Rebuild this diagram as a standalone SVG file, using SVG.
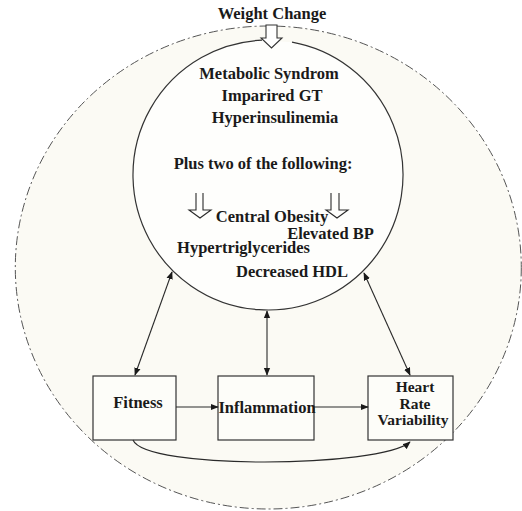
<svg xmlns="http://www.w3.org/2000/svg" width="522" height="511" viewBox="0 0 522 511">
<defs>
<style>
.t{font-family:"Liberation Serif","Times New Roman",serif;font-weight:bold;font-size:16.5px;fill:#1a1a1a;text-anchor:middle}
.s{font-size:15.5px}
.box{fill:#fdfdf9;stroke:#333;stroke-width:1.2}
.ln{fill:none;stroke:#2a2a2a;stroke-width:1.1}
.ha{fill:#fff;stroke:#333;stroke-width:1.1}
</style>
<marker id="ah" viewBox="0 0 10 10" refX="9" refY="5" markerWidth="8" markerHeight="8" markerUnits="userSpaceOnUse" orient="auto-start-reverse">
<path d="M0,1 L10,5 L0,9 Z" fill="#1a1a1a"/>
</marker>
</defs>
<rect width="522" height="511" fill="#ffffff"/>
<g id="outer">
<ellipse cx="268.3" cy="267.5" rx="253" ry="241.5" fill="#fbfaf4" stroke="#555" stroke-width="1" stroke-dasharray="9 3 2 3"/>
</g>
<g id="weight-change">
<text class="t" x="272" y="19">Weight Change</text>
</g>
<g id="metabolic">
<path d="M 292 42.15 A 135 135 0 1 1 262 40.13" fill="#fefefc" stroke="#333" stroke-width="1.2"/>
<polygon class="ha" points="266,25 277,25 277,38 282,38 271.5,48 261,38 266,38"/>
<text class="t" x="269" y="79">Metabolic Syndrom</text>
<text class="t" x="272" y="101">Imparired GT</text>
<text class="t" x="275" y="123">Hyperinsulinemia</text>
<text class="t" x="263" y="169">Plus two of the following:</text>
<polyline class="ln" points="196,193 196,210 189,210 200,218 211,210 203,210 203,193"/>
<polyline class="ln" points="331,193 331,210 326,210 337,218 348,210 339,210 339,193"/>
<text class="t" x="272" y="222">Central Obesity</text>
<text class="t" x="330.5" y="239">Elevated BP</text>
<text class="t" x="243.5" y="253">Hypertriglycerides</text>
<text class="t" x="292" y="277">Decreased HDL</text>
</g>
<g id="fitness">
<rect class="box" x="93" y="376" width="83" height="64"/>
<text class="t" x="138" y="408">Fitness</text>
</g>
<g id="inflammation">
<rect class="box" x="218" y="376" width="96" height="64"/>
<text class="t" x="267" y="413">Inflammation</text>
</g>
<g id="hrv">
<rect class="box" x="368" y="376" width="85" height="64"/>
<text class="t s" x="415" y="392">Heart</text>
<text class="t s" x="415" y="408.5">Rate</text>
<text class="t s" x="413" y="425">Variability</text>
</g>
<g id="connectors">
<line class="ln" x1="176" y1="407" x2="218" y2="407" marker-end="url(#ah)"/>
<line class="ln" x1="314" y1="407" x2="368" y2="407" marker-end="url(#ah)"/>
<line class="ln" x1="135" y1="375" x2="172" y2="272" marker-start="url(#ah)" marker-end="url(#ah)"/>
<line class="ln" x1="267" y1="375" x2="267" y2="311" marker-start="url(#ah)" marker-end="url(#ah)"/>
<line class="ln" x1="410" y1="375" x2="364" y2="273" marker-start="url(#ah)" marker-end="url(#ah)"/>
<path class="ln" d="M 133 440 C 145 470, 380 468, 410 442" marker-end="url(#ah)"/>
</g>
</svg>
